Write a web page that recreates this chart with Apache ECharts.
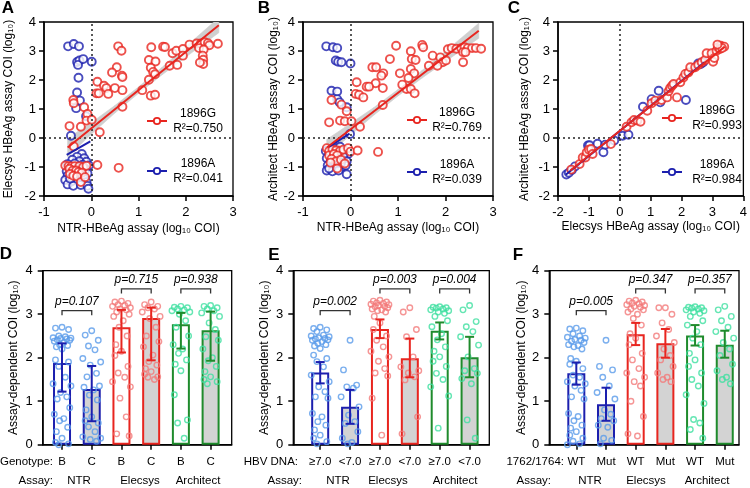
<!DOCTYPE html>
<html><head><meta charset="utf-8">
<script src="https://cdn.jsdelivr.net/npm/echarts@6/dist/echarts.min.js"></script>
<style>html,body{margin:0;padding:0;background:#fff}#c{width:750px;height:488px}</style>
</head><body><div id="c"></div>
<script>
// ---------------- DATA ----------------
// Panel A: NTR (x) vs Elecsys (y), log10 COI
const A_red = [[0.57,3.16],[0.64,3.01],[1.27,3.13],[1.52,3.15],[1.56,3.14],[1.72,2.92],[1.80,3.01],[1.94,3.07],[1.94,2.84],[2.08,3.22],[2.23,3.26],[2.32,3.26],[2.40,3.30],[2.47,3.27],[2.50,3.20],[2.68,3.25],[2.28,3.10],[2.38,3.05],[2.36,2.84],[2.37,2.70],[2.37,2.55],[2.30,2.60],
 [1.22,2.69],[1.36,2.64],[1.26,2.42],[1.31,2.28],[1.35,2.20],[1.22,2.01],[1.66,2.49],[1.82,2.52],[0.54,2.44],[0.44,2.26],[0.65,2.15],[0.66,2.10],
 [0.13,1.94],[0.27,1.80],[0.32,1.72],[0.36,1.52],[0.11,1.54],[0.16,1.54],[0.50,1.72],[0.66,1.65],[1.08,1.65],[1.26,1.46],[1.35,1.49],
 [0.66,1.08],[-0.15,1.06],[-0.08,0.83],[-0.10,0.60],[0.01,0.63],[-0.22,0.39],[-0.46,0.41],[-0.38,1.31],[-0.37,1.20],[0.18,0.20],[-0.37,-0.29],
 [-0.55,-0.95],[-0.48,-0.97],[-0.42,-0.98],[-0.35,-0.97],[-0.25,-0.97],[-0.17,-1.00],[-0.10,-0.96],[-0.46,-1.06],[-0.39,-1.12],[-0.32,-1.12],[-0.27,-1.17],[-0.20,-1.20],[-0.45,-1.24],[-0.38,-1.30],[-0.30,-1.33],[-0.22,-1.52],[-0.13,-1.35],[0.13,-0.93],[0.58,-1.03]];
const A_blue = [[-0.49,3.16],[-0.37,3.24],[-0.26,3.16],[-0.30,2.62],[-0.25,2.67],[-0.28,2.52],[-0.17,2.72],[0.01,2.63],[-0.27,2.08],[-0.30,1.57],[-0.24,1.29],[-0.32,1.03],[-0.11,0.75],[-0.43,0.08],
 [-0.20,-0.55],[-0.30,-0.65],[-0.15,-0.70],[-0.40,-0.75],[-0.25,-0.80],[-0.10,-0.82],[-0.50,-0.90],[-0.35,-0.88],[-0.18,-0.92],[-0.05,-0.95],[-0.45,-1.05],[-0.28,-1.02],[-0.12,-1.08],[-0.52,-1.15],[-0.40,-1.18],[-0.22,-1.25],[-0.08,-1.22],[-0.50,-1.30],[-0.35,-1.35],[-0.15,-1.40],[-0.55,-1.45],[-0.42,-1.50],[-0.28,-1.48],[-0.10,-1.52],[-0.50,-1.60],[-0.38,-1.65],[-0.22,-1.62],[-0.08,-1.65],[-0.06,-1.75],[-0.45,-1.40]];
const A_redFit = [[-0.50,-0.33],[2.70,3.89]];
const A_blueFit = [[-0.52,-0.58],[-0.02,-0.12]];
const A_band = [[-0.50,-0.65,-0.01],[0.00,0.13,0.53],[0.50,0.86,1.12],[1.00,1.54,1.76],[1.50,2.18,2.44],[2.00,2.79,3.15],[2.70,3.63,4.15]];

// Panel B: NTR (x) vs Architect (y)
const B_red = [[0.96,3.18],[1.51,3.21],[1.53,3.13],[2.05,3.06],[2.13,3.10],[2.23,3.08],[2.33,3.10],[2.40,3.13],[2.47,3.10],[2.56,3.10],[2.64,3.10],[2.75,3.08],[2.37,2.96],[2.42,2.96],[2.37,2.61],[1.73,2.84],[1.89,2.78],[1.94,2.61],[2.01,2.67],[1.65,2.49],[1.83,2.49],
 [1.27,2.99],[1.29,2.72],[1.37,2.69],[1.27,2.38],[1.34,2.23],[1.22,2.07],[1.04,2.23],[1.18,1.69],[1.27,1.69],[1.35,1.54],[1.09,1.84],[0.83,2.72],[0.46,2.44],[0.54,2.44],[0.69,2.23],[0.65,2.15],[0.53,1.89],[0.34,1.77],[0.39,1.77],[0.13,1.92],[0.11,1.52],[0.18,1.49],[0.27,1.40],[0.68,1.72],[0.68,1.14],
 [-0.40,1.31],[-0.19,1.15],[-0.08,0.92],[-0.22,0.60],[-0.12,0.58],[0.02,0.58],[-0.45,0.54],[0.20,0.39],
 [-0.50,-0.35],[-0.45,-0.45],[-0.38,-0.40],[-0.30,-0.42],[-0.22,-0.45],[-0.15,-0.40],[-0.05,-0.35],[0.00,-0.47],[0.15,-0.43],[-0.45,-0.60],[-0.35,-0.55],[-0.28,-0.60],[-0.40,-0.72],[-0.30,-0.80],[-0.20,-0.75],[-0.42,-0.85],[-0.12,-0.88],[-0.28,-1.05],[0.58,-0.48]];
const B_blue = [[-0.51,3.16],[-0.37,3.13],[-0.28,3.10],[-0.31,2.67],[-0.26,2.63],[-0.19,2.61],[0.00,2.57],[-0.40,1.63],[-0.28,1.60],[-0.28,1.34],[-0.23,1.23],[-0.08,1.06],[-0.01,0.14],
 [-0.52,-0.45],[-0.45,-0.55],[-0.38,-0.50],[-0.30,-0.35],[-0.22,-0.30],[-0.12,-0.45],[-0.05,-0.55],[-0.50,-0.70],[-0.42,-0.80],[-0.35,-0.68],[-0.25,-0.75],[-0.15,-0.65],[-0.08,-0.80],[-0.48,-0.95],[-0.40,-1.00],[-0.30,-0.92],[-0.18,-1.00],[-0.10,-0.95],[-0.50,-1.12],[-0.38,-1.15],[-0.25,-1.12],[-0.08,-1.25],[-0.45,-1.05],[-0.20,-0.85]];
const B_redFit = [[-0.49,-0.32],[2.70,3.70]];
const B_blueFit = [[-0.45,-0.30],[-0.02,0.15]];
const B_band = [[-0.50,-0.62,-0.05],[0.00,0.10,0.50],[0.50,0.80,1.06],[1.00,1.45,1.67],[1.50,2.06,2.32],[2.00,2.64,2.99],[2.70,3.44,3.96]];

// Panel C: Elecsys (x) vs Architect (y)
const C_red = [[-1.57,-1.09],[-1.30,-0.90],[-1.20,-0.67],[-1.11,-0.67],[-1.07,-0.49],[-1.00,-0.40],[-0.93,-0.38],[-0.88,-0.55],[-0.29,-0.21],[0.22,0.39],[0.38,0.54],[0.46,0.62],[0.57,0.60],[0.67,0.56],[0.89,0.94],[1.03,1.20],[1.15,1.29],[1.35,1.31],[1.53,1.40],[1.58,1.61],[1.63,1.72],[1.69,1.80],[1.74,1.86],[1.85,1.40],[1.96,1.92],[2.06,2.09],[2.12,2.21],[2.22,2.26],[2.28,2.44],[2.44,2.44],[2.54,2.52],[2.65,2.61],[2.76,2.69],[2.81,2.92],[2.97,2.92],[3.02,2.63],[3.06,2.76],[3.13,3.01],[3.18,3.13],[3.27,3.18],[3.38,3.15],[3.24,3.07],[3.31,3.10],[3.16,3.22]];
const C_blue = [[-1.73,-1.26],[-1.65,-1.20],[-1.55,-1.10],[-1.45,-0.98],[-1.03,-0.26],[-0.98,-0.25],[-0.72,-0.20],[-0.53,-0.49],[-0.47,-0.23],[-0.18,-0.09],[0.09,0.08],[0.28,0.11],[0.75,1.08],[1.03,1.34],[1.26,1.63],[1.31,1.23],[2.14,1.31],[2.54,2.57],[2.62,2.55],[2.70,2.61]];
const C_redFit = [[-1.60,-1.12],[3.40,3.15]];
const C_blueFit = [[-1.75,-1.27],[2.75,2.62]];
const C_band = [];

// Bar panels: means and 95% CI (log10 COI)
const D_labels = ['B','C','B','C','B','C'];
const D_means = [1.88,1.28,2.70,2.91,2.77,2.63];
const D_lo = [1.22,0.54,2.12,1.94,2.21,1.93];
const D_hi = [2.33,1.81,3.10,3.15,3.03,3.06];
const D_p = ['p=0.107','p=0.715','p=0.938'];
const D_pts = [
 [2.70,2.68,2.65,2.50,2.48,2.46,2.45,2.44,2.43,2.41,2.40,2.38,2.35,2.30,2.28,2.25,2.20,1.95,1.90,1.80,1.55,1.40,1.35,1.20,1.10,1.05,0.85,0.70,0.60,0.55,0.40,0.30,0.15,0.05,0.02,0.00],
 [2.62,2.52,2.40,2.27,2.18,1.98,1.90,1.83,1.64,1.56,1.35,1.32,1.26,1.14,1.03,0.80,0.64,0.55,0.50,0.41,0.30,0.18,0.15,0.12,0.08],
 [3.30,3.28,3.25,3.22,3.20,3.18,3.15,3.12,3.10,3.05,3.00,2.95,2.85,2.70,2.50,2.30,2.15,2.05,1.80,1.65,1.55,1.45,1.33,1.07,0.64,0.25,0.20],
 [3.28,3.22,3.18,3.15,3.12,3.05,2.95,2.90,2.70,2.50,2.37,2.25,2.06,1.91,1.83,1.75,1.68,1.62,1.56,1.55,1.50],
 [3.18,3.16,3.15,3.12,3.10,3.08,3.05,3.00,2.85,2.70,2.50,2.30,2.20,2.10,1.95,1.85,1.70,1.15,0.57,0.50,0.15],
 [3.20,3.18,3.15,3.12,3.08,3.03,2.95,2.80,2.65,2.48,2.40,2.20,2.00,1.93,1.80,1.68,1.56,1.50,1.45,1.40]];

const E_labels = ['≥7.0','<7.0','≥7.0','<7.0','≥7.0','<7.0'];
const E_means = [1.66,0.87,2.66,1.99,2.62,2.01];
const E_lo = [1.41,0.48,2.45,1.55,2.42,1.55];
const E_hi = [1.90,1.26,2.88,2.44,2.81,2.48];
const E_p = ['p=0.002','p=0.003','p=0.004'];
const E_pts = [
 [2.70,2.67,2.64,2.60,2.52,2.50,2.48,2.46,2.44,2.43,2.41,2.40,2.37,2.33,2.30,2.27,2.21,2.06,1.98,1.91,1.79,1.60,1.45,1.33,1.22,1.10,1.07,0.72,0.64,0.53,0.45,0.34,0.22,0.15,0.07,0.02],
 [2.40,1.72,1.37,1.33,1.30,1.10,0.87,0.68,0.53,0.49,0.30,0.15,0.05,0.02],
 [3.32,3.30,3.28,3.26,3.25,3.23,3.22,3.20,3.18,3.17,3.15,3.12,3.10,3.08,3.05,2.95,2.80,2.65,2.50,2.40,2.25,2.15,2.02,1.92,1.75,1.65,1.58,1.07,0.22],
 [3.15,3.05,2.65,2.48,2.02,1.79,1.70,1.65,1.56,1.49,0.64,0.25],
 [3.17,3.16,3.15,3.14,3.12,3.10,3.08,3.05,3.02,2.95,2.85,2.71,2.55,2.41,2.25,2.15,2.02,1.92,1.80,1.64,1.50,1.33,1.12,0.38],
 [3.20,3.10,2.83,2.71,2.60,2.48,2.29,2.02,1.75,1.70,1.64,1.52,1.40,0.57,0.15]];

const F_labels = ['WT','Mut','WT','Mut','WT','Mut'];
const F_means = [1.64,0.93,2.54,2.33,2.51,2.30];
const F_lo = [1.38,0.55,2.29,2.00,2.28,2.00];
const F_hi = [1.89,1.31,2.80,2.66,2.75,2.62];
const F_p = ['p=0.005','p=0.347','p=0.357'];
const F_pts = [
 [2.68,2.66,2.62,2.55,2.50,2.47,2.45,2.42,2.40,2.38,2.35,2.30,2.28,2.25,2.20,1.98,1.92,1.85,1.75,1.60,1.55,1.45,1.40,1.35,1.25,1.10,1.05,0.72,0.65,0.55,0.45,0.38,0.30,0.22,0.15,0.08,0.02,0.00],
 [2.40,1.80,1.72,1.55,1.35,1.20,1.05,0.80,0.70,0.60,0.55,0.45,0.40,0.15,0.10,0.02],
 [3.32,3.30,3.28,3.26,3.24,3.22,3.20,3.18,3.16,3.12,3.10,3.05,3.00,2.90,2.75,2.55,2.45,2.30,2.10,1.95,1.75,1.65,1.55,1.45,1.35,1.00,0.65,0.25,0.20],
 [3.15,3.15,3.00,2.80,2.65,2.50,2.35,2.20,2.05,1.95,1.80,1.65,1.55,1.50,1.45],
 [3.17,3.16,3.15,3.14,3.12,3.10,3.08,3.05,3.02,2.95,2.85,2.75,2.60,2.45,2.30,2.10,1.95,1.80,1.65,1.50,1.35,1.15,0.95,0.58,0.50,0.35,0.15],
 [3.18,3.10,2.95,2.85,2.70,2.60,2.45,2.35,2.20,2.05,1.85,1.70,1.55,1.50,1.40]];

// ---------------- STYLE / LAYOUT ----------------
const FONT = '"Liberation Sans", Arial, Helvetica, sans-serif';
const BLUE='#1c1fae', RED='#e8251f', GREEN='#1f8b2c';
const LBLUE='#5a9bea', LRED='#f27b7b', LGREEN='#3fe0a0';
const GREYFILL='#d3d3d3';
const DARK=[BLUE,RED,GREEN], LIGHT=[LBLUE,LRED,LGREEN];
const JIT=[0.0,-0.22,0.22,-0.11,0.11,-0.30,0.30,-0.05,0.16,-0.16,0.26,-0.26,0.06,-0.08,0.19,-0.19];

const option = {animation:false, textStyle:{fontFamily:FONT}, grid:[], xAxis:[], yAxis:[], series:[], graphic:[]};

function axisBase(){
  return {axisLine:{show:true,onZero:false,lineStyle:{color:'#000',width:1.5}},
    axisTick:{show:true,length:5,lineStyle:{color:'#000',width:1.5}},
    axisLabel:{color:'#000',fontSize:13,fontFamily:FONT},
    splitLine:{show:false},
    nameTextStyle:{color:'#000',fontSize:12,fontFamily:FONT}};
}

const scatterPanels = [
 {grid:{left:44,top:22,width:189,height:174}, xmin:-1,xmax:3, red:A_red, blue:A_blue, rf:A_redFit, bf:A_blueFit, band:A_band,
  xName:'NTR-HBeAg assay (log₁₀ COI)', yName:'Elecsys HBeAg assay COI (log₁₀)', xGap:27, yGap:29, r2:['R²=0.750','R²=0.041'],
  leg:{x1:147,x2:167,tx:198,ry:121,by:171}},
 {grid:{left:303,top:22,width:190,height:174}, xmin:-1,xmax:3, red:B_red, blue:B_blue, rf:B_redFit, bf:B_blueFit, band:B_band,
  xName:'NTR-HBeAg assay (log₁₀ COI)', yName:'Architect HBeAg assay COI (log₁₀)', xGap:26, yGap:23, r2:['R²=0.769','R²=0.039'],
  leg:{x1:407,x2:427,tx:457,ry:120,by:172}},
 {grid:{left:558,top:22,width:189,height:174}, xmin:-2,xmax:4, red:C_red, blue:C_blue, rf:C_redFit, bf:C_blueFit, band:C_band,
  xName:'Elecsys HBeAg assay (log₁₀ COI)', yName:'Architect HBeAg assay COI (log₁₀)', xGap:25, yGap:27, r2:['R²=0.993','R²=0.984'],
  leg:{x1:662,x2:682,tx:717,ry:118,by:172}}
];

function bandRender(band){
  return function(params, api){
    const i = params.dataIndex;
    if (i >= band.length-1) return null;
    const a = band[i], b = band[i+1];
    const pts = [api.coord([a[0],a[1]]), api.coord([b[0],b[1]]), api.coord([b[0],b[2]]), api.coord([a[0],a[2]])];
    return {type:'polygon', shape:{points:pts}, style:{fill:'#cfcfcf', stroke:'#cfcfcf', lineWidth:0.6}};
  };
}

function txt(x,y,text,font,align,color){
  return {type:'text', x:x, y:y, silent:true, z:50,
    style:{text:text, font:font||('12px '+FONT), fill:color||'#000', align:align||'center', textAlign:align||'center', verticalAlign:'middle', textVerticalAlign:'middle'}};
}

scatterPanels.forEach((p, gi) => {
  option.grid.push(Object.assign({show:true, borderColor:'#000', borderWidth:1.3, backgroundColor:'transparent'}, p.grid));
  option.xAxis.push(Object.assign(axisBase(), {type:'value', gridIndex:gi, min:p.xmin, max:p.xmax, interval:1,
    name:p.xName, nameLocation:'middle', nameGap:p.xGap}));
  option.xAxis[gi].axisLabel.margin = 10;
  option.yAxis.push(Object.assign(axisBase(), {type:'value', gridIndex:gi, min:-2, max:4, interval:1,
    name:p.yName, nameLocation:'middle', nameGap:p.yGap}));
  option.yAxis[gi].axisLabel.margin = 8;
  const ax = {xAxisIndex:gi, yAxisIndex:gi};
  option.series.push(Object.assign({type:'custom', name:'band'+gi, data:p.band, renderItem:bandRender(p.band), clip:true, z:1, silent:true,
    markLine:{silent:true, symbol:'none', label:{show:false}, lineStyle:{type:[2,3], color:'#222', width:1.5}, data:[{xAxis:0},{yAxis:0}]}}, ax));
  option.series.push(Object.assign({type:'scatter', name:'1896A', data:p.blue, symbol:'circle', symbolSize:8, z:3,
    itemStyle:{color:'#fff', borderColor:BLUE, borderWidth:1.9}}, ax));
  option.series.push(Object.assign({type:'scatter', name:'1896G', data:p.red, symbol:'circle', symbolSize:8, z:4,
    itemStyle:{color:'#fff', borderColor:RED, borderWidth:1.9}}, ax));
  option.series.push(Object.assign({type:'line', data:p.bf, showSymbol:false, lineStyle:{color:BLUE, width:2}, z:5}, ax));
  option.series.push(Object.assign({type:'line', data:p.rf, showSymbol:false, lineStyle:{color:RED, width:2}, z:6}, ax));
  // legend drawing
  const L = p.leg, lx = (L.x1+L.x2)/2;
  [[RED,L.ry,'1896G',p.r2[0]],[BLUE,L.by,'1896A',p.r2[1]]].forEach(([c,y,n,r]) => {
    option.graphic.push({type:'line', silent:true, z:50, shape:{x1:L.x1,y1:y,x2:L.x2,y2:y}, style:{stroke:c, lineWidth:2}});
    option.graphic.push({type:'circle', silent:true, z:51, shape:{cx:lx,cy:y,r:3.2}, style:{fill:'#fff', stroke:c, lineWidth:1.8}});
    option.graphic.push(txt(L.tx, y-7.5, n));
    option.graphic.push(txt(L.tx, y+7.5, r));
  });
});

const barPanels = [
 {grid:{left:42.7,top:270.7,width:189,height:174}, xmin:-0.65, xmax:5.71, yGap:23.5, labels:D_labels, means:D_means, lo:D_lo, hi:D_hi, p:D_p, pts:D_pts},
 {grid:{left:293.3,top:270.7,width:196,height:174}, xmin:-0.90, xmax:5.66, yGap:22.5, labels:E_labels, means:E_means, lo:E_lo, hi:E_hi, p:E_p, pts:E_pts},
 {grid:{left:549.3,top:270.7,width:189.7,height:174}, xmin:-0.91, xmax:5.48, yGap:21.5, labels:F_labels, means:F_means, lo:F_lo, hi:F_hi, p:F_p, pts:F_pts}
];
const bracketY = [3.08, 3.58, 3.58];

barPanels.forEach((p, k) => {
  const gi = 3 + k;
  option.grid.push(Object.assign({show:true, borderColor:'#000', borderWidth:1.3, backgroundColor:'transparent'}, p.grid));
  const xa = Object.assign(axisBase(), {type:'value', gridIndex:gi, min:p.xmin, max:p.xmax});
  xa.axisLabel.customValues = [0,1,2,3,4,5];
  xa.axisLabel.formatter = (v) => p.labels[Math.round(v)];
  xa.axisLabel.margin = 11;
  xa.axisLabel.fontSize = 11.5;
  xa.axisTick.customValues = [0,1,2,3,4,5];
  option.xAxis.push(xa);
  const ya = Object.assign(axisBase(), {type:'value', gridIndex:gi, min:0, max:4, interval:1,
    name:'Assay-dependent COI (log₁₀)', nameLocation:'middle', nameGap:p.yGap});
  ya.axisLabel.margin = 10;
  option.yAxis.push(ya);
  const ax = {xAxisIndex:gi, yAxisIndex:gi};
  option.series.push(Object.assign({type:'bar', barWidth:18, z:2, silent:true,
    data:p.means.map((m,i)=>({value:[i,m], itemStyle:{color: i%2 ? GREYFILL : '#fff', borderColor:DARK[i>>1], borderWidth:2}}))}, ax));
  p.pts.forEach((arr, i) => {
    option.series.push(Object.assign({type:'scatter', symbol:'circle', symbolSize:5.5, z:3, silent:true,
      itemStyle:{color:'rgba(255,255,255,0)', borderColor:LIGHT[i>>1], borderWidth:1.4},
      data:arr.map((v,j)=>[i + JIT[j % JIT.length], v])}, ax));
  });
  option.series.push(Object.assign({type:'custom', z:4, silent:true,
    data:p.means.map((m,i)=>({value:[i,p.lo[i],p.hi[i]], itemStyle:{color:DARK[i>>1]}})),
    renderItem:(params, api) => {
      const x = api.value(0), a = api.coord([x, api.value(1)]), b = api.coord([x, api.value(2)]);
      const c = api.visual('color'), hw = 4.5, st = {stroke:c, lineWidth:2};
      return {type:'group', children:[
        {type:'line', shape:{x1:a[0],y1:a[1],x2:b[0],y2:b[1]}, style:st},
        {type:'line', shape:{x1:a[0]-hw,y1:a[1],x2:a[0]+hw,y2:a[1]}, style:st},
        {type:'line', shape:{x1:b[0]-hw,y1:b[1],x2:b[0]+hw,y2:b[1]}, style:st}]};
    }}, ax));
  option.series.push(Object.assign({type:'custom', z:5, silent:true,
    data:[[0,1,bracketY[0]],[2,3,bracketY[1]],[4,5,bracketY[2]]],
    renderItem:(params, api) => {
      const y = api.value(2), p1 = api.coord([api.value(0), y]), p2 = api.coord([api.value(1), y]);
      const tk = 4.5;
      return {type:'group', children:[
        {type:'polyline', shape:{points:[[p1[0],p1[1]+tk],[p1[0],p1[1]],[p2[0],p2[1]],[p2[0],p2[1]+tk]]}, style:{stroke:'#333', lineWidth:1.3, fill:null}},
        {type:'text', x:(p1[0]+p2[0])/2, y:p1[1]-9, style:{text:p.p[params.dataIndex], font:'italic 12px '+FONT, fill:'#000', align:'center', verticalAlign:'middle'}}]};
    }}, ax));
});

// panel letters
[['A',8,8],['B',264,8],['C',514,8],['D',6,254],['E',274,255],['F',518,255]].forEach(([t,x,y]) => {
  option.graphic.push(txt(x,y,t,'bold 17px '+FONT));
});
// bottom row captions
const R1 = 462, R2 = 481, CF = '11.5px '+FONT;
option.graphic.push(txt(53,R1,'Genotype:',CF,'right'));
option.graphic.push(txt(53,R2,'Assay:',CF,'right'));
option.graphic.push(txt(79,R2,'NTR',CF), txt(140,R2,'Elecsys',CF), txt(198,R2,'Architect',CF));
option.graphic.push(txt(298,R1,'HBV DNA:',CF,'right'));
option.graphic.push(txt(302,R2,'Assay:',CF,'right'));
option.graphic.push(txt(338,R2,'NTR',CF), txt(388,R2,'Elecsys',CF), txt(455,R2,'Architect',CF));
option.graphic.push(txt(564,R1,'1762/1764:',CF,'right'));
option.graphic.push(txt(551,R2,'Assay:',CF,'right'));
option.graphic.push(txt(590,R2,'NTR',CF), txt(646,R2,'Elecsys',CF), txt(707,R2,'Architect',CF));

const chart = echarts.init(document.getElementById('c'), null, {renderer:'canvas'});
chart.setOption(option);
</script></body></html>
